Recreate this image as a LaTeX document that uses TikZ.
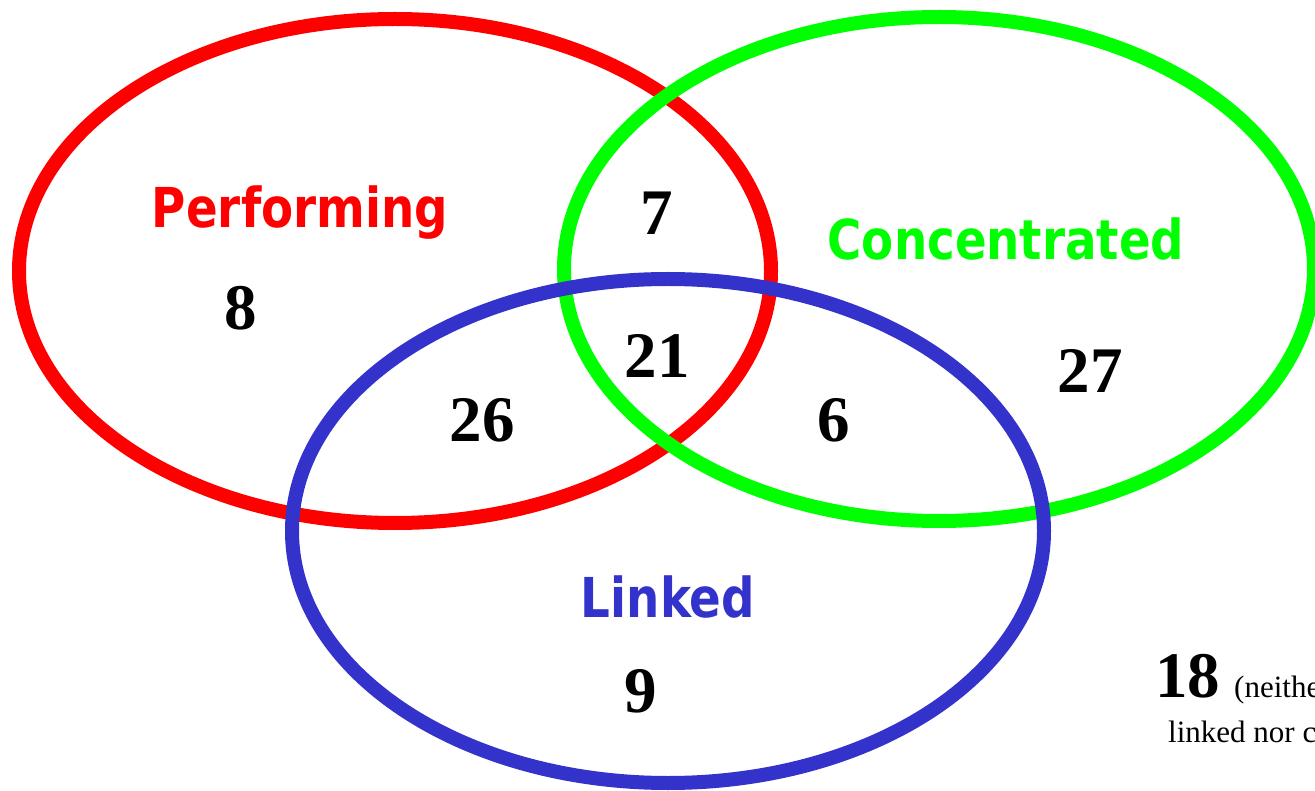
\documentclass[tikz,border=0pt]{standalone}
\usepackage{fontspec}
\setmainfont{Liberation Serif}
\newfontfamily\labelfont{DejaVu Sans}[FakeStretch=0.85]
\definecolor{setred}{RGB}{255,0,0}
\definecolor{setgreen}{RGB}{0,255,0}
\definecolor{setblue}{RGB}{51,51,204}
\tikzset{
  setring/.style={line width=14pt},
  setname/.style={anchor=base, inner sep=0pt, font=\labelfont\bfseries\fontsize{55}{60}\selectfont},
  count/.style={anchor=base, inner sep=0pt, font=\bfseries\fontsize{65}{70}\selectfont},
  note/.style={anchor=base west, inner sep=0pt, font=\fontsize{31}{36}\selectfont}
}
\begin{document}
\begin{tikzpicture}[x=1pt,y=-1pt]
\useasboundingbox (0,0) rectangle (1315,791);
\begin{scope}
\clip (0,0) rectangle (1315,791);
% the three sets
\draw[setring, setred]   (395,271) ellipse [x radius=376pt, y radius=252pt];
\draw[setring, setgreen] (939,269) ellipse [x radius=375pt, y radius=252pt];
\draw[setring, setblue]  (668,531) ellipse [x radius=376pt, y radius=252pt];
% set names
\node[setname, text=setred]   (perf) at (300,228) {Performing};
\node[setname, text=setgreen] (conc) at (1006,260) {Concentrated};
\node[setname, text=setblue]  (link) at (668,617) {Linked};
% region counts
\node[count] (pOnly)  at (241,330) {8};
\node[count] (pc)     at (657,235) {7};
\node[count] (cOnly)  at (1090,393) {27};
\node[count] (pcl)    at (657,378) {21};
\node[count] (pl)     at (482,442) {26};
\node[count] (cl)     at (834,442) {6};
\node[count] (lOnly)  at (641,712) {9};
% outside all three sets
\node[count, anchor=base west] (none) at (1155,697) {18};
\node[note] (noneA) at (1234,697) {(neither performing,};
\node[note] (noneB) at (1168,742) {linked nor concentrated)};
\end{scope}
\end{tikzpicture}
\end{document}
